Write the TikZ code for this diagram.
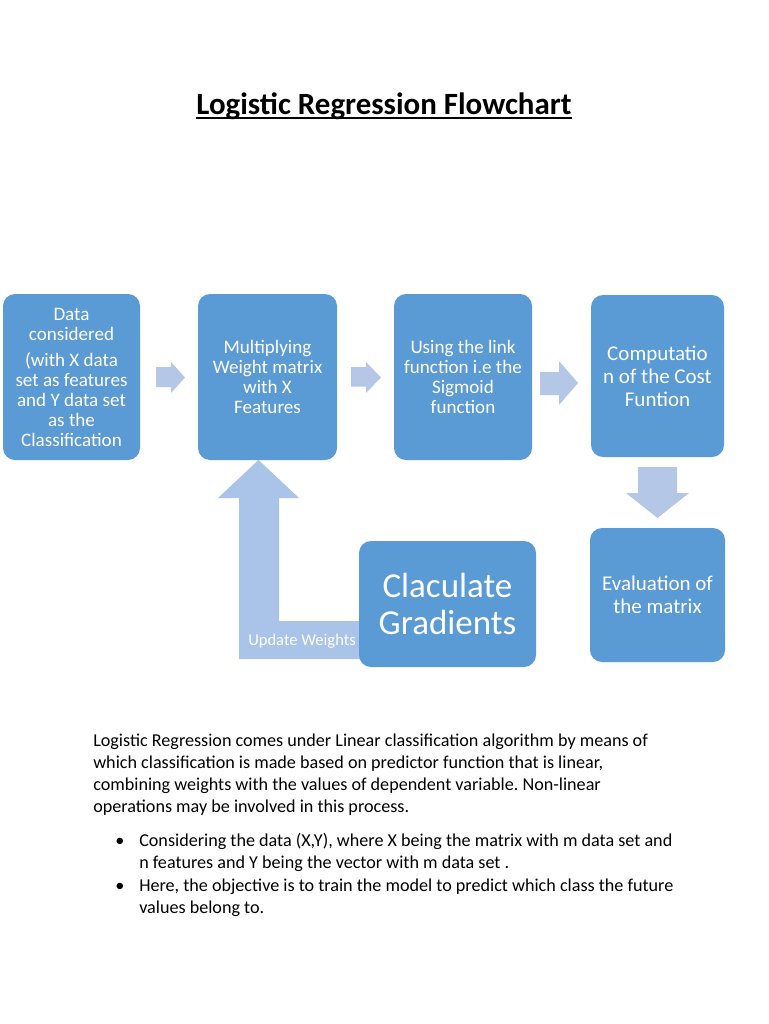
\documentclass[tikz,border=0pt]{standalone}
\usepackage{fontspec}
\setmainfont{Carlito}
\frenchspacing
\definecolor{boxblue}{HTML}{5B9BD5}
\definecolor{arrowblue}{HTML}{B4C7E7}
\definecolor{larrowblue}{HTML}{A9C4E8}
\begin{document}
\begin{tikzpicture}[x=0.75pt,y=-0.75pt,
  box/.style={rectangle, rounded corners=9pt, fill=boxblue, text=white, align=center, inner sep=0pt},
  smallbox/.style={box, font=\fontsize{14.3}{15}\selectfont},
  midbox/.style={box, font=\fontsize{15.75}{17.25}\selectfont},
  bigbox/.style={box, font=\fontsize{26.25}{27.75}\selectfont},
  blockarrow/.style={fill=arrowblue, draw=none},
  bodytext/.style={anchor=base west, inner sep=0pt, font=\fontsize{13.6}{16.5}\selectfont},
]
\useasboundingbox (0,0) rectangle (768,1024);
\fill[white] (0,0) rectangle (768,1024);

% title
\node[anchor=base, inner sep=0pt, font=\fontsize{23.2}{27}\selectfont\bfseries] (title) at (384,114) {Logistic Regression Flowchart};
\draw[line width=1.5pt] ([yshift=-3.2pt]title.base west) -- ([yshift=-3.2pt]title.base east);

% block arrows (drawn first, behind boxes)
\fill[blockarrow] (156,367) -- (171,367) -- (171,362) -- (185,377.5) -- (171,393) -- (171,387) -- (156,387) -- cycle;
\fill[blockarrow] (351,367) -- (366,367) -- (366,362) -- (381,377.5) -- (366,393) -- (366,386.5) -- (351,386.5) -- cycle;
\fill[blockarrow] (540,372) -- (559,372) -- (559,361) -- (578,383) -- (559,405) -- (559,395) -- (540,395) -- cycle;
\fill[blockarrow] (638,467) -- (677,467) -- (677,493) -- (689,493) -- (657.5,518) -- (626,493) -- (638,493) -- cycle;
\fill[larrowblue] (370,659) -- (239,659) -- (239,498) -- (218,498) -- (258.5,460) -- (299,498) -- (279,498) -- (279,621) -- (370,621) -- cycle;
\node[anchor=base west, inner sep=0pt, text=white, font=\fontsize{12.4}{14}\selectfont] (upd) at (248,645) {Update Weights};

% boxes
\node[smallbox, minimum width=137*0.75pt, minimum height=166*0.75pt] (data) at (71.5,377)
  {Data\\considered\\[4.5pt](with X data\\set as features\\and Y data set\\as the\\Classification};
\node[smallbox, minimum width=139*0.75pt, minimum height=166*0.75pt] (mult) at (267.5,377)
  {Multiplying\\Weight matrix\\with X\\Features};
\node[smallbox, minimum width=138*0.75pt, minimum height=166*0.75pt] (link) at (463,377)
  {Using the link\\function i.e the\\Sigmoid\\function};
\node[midbox, minimum width=133*0.75pt, minimum height=162*0.75pt] (cost) at (657.5,376)
  {Computatio\\n of the Cost\\Funtion};
\node[midbox, minimum width=135*0.75pt, minimum height=134*0.75pt] (eval) at (657.5,595)
  {Evaluation of\\the matrix};
\node[bigbox, minimum width=177*0.75pt, minimum height=126*0.75pt] (grad) at (447.5,604)
  {Claculate\\Gradients};

% body text
\node[bodytext] (p1) at (93,746) {Logistic Regression comes under Linear classification algorithm by means of};
\node[bodytext] (p2) at (93,768) {which classification is made based on predictor function that is linear,};
\node[bodytext] (p3) at (93,790) {combining weights with the values of dependent variable. Non-linear};
\node[bodytext] (p4) at (93,812) {operations may be involved in this process.};

\node[bodytext, anchor=base] (bul1) at (120,846) {•};
\node[bodytext] (q1) at (139,846) {Considering the data (X,Y), where X being the matrix with m data set and};
\node[bodytext] (q2) at (139,868) {n features and Y being the vector with m data set .};
\node[bodytext, anchor=base] (bul2) at (120,891) {•};
\node[bodytext] (q3) at (139,891) {Here, the objective is to train the model to predict which class the future};
\node[bodytext] (q4) at (139,913) {values belong to.};
\end{tikzpicture}
\end{document}
